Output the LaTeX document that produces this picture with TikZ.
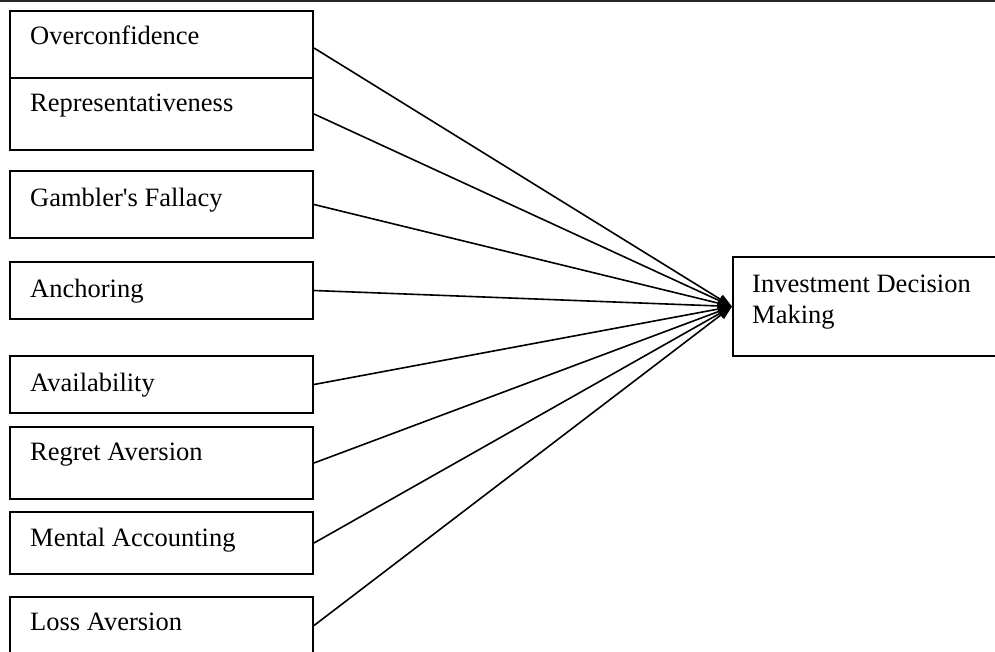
\documentclass[tikz,border=0pt]{standalone}
\usepackage{fontspec}
\setmainfont{Liberation Serif}
\usetikzlibrary{arrows.meta}
\begin{document}
\begin{tikzpicture}[x=1pt,y=-1pt,
  box/.style={draw=black, line width=2pt, rectangle, inner sep=0pt, minimum width=303pt, anchor=north west},
  lbl/.style={inner sep=0pt, anchor=base west, font=\fontsize{26.5}{31}\selectfont},
  conn/.style={draw=black, line width=1.6pt, -{Triangle[length=14pt,width=10pt]}}]
\useasboundingbox (0,0) rectangle (995,652);
\clip (0,0) rectangle (995,652);
\fill[white] (0,0) rectangle (995,652);
\draw[line width=2pt, black!85] (0,1) -- (995,1);
% boxes
\node[box, minimum height=67pt] (b1) at (9,10) {};
\node[box, minimum height=72pt] (b2) at (9,77) {};
\node[box, minimum height=67pt] (b3) at (9,170) {};
\node[box, minimum height=57pt] (b4) at (9,261) {};
\node[box, minimum height=57pt] (b5) at (9,355) {};
\node[box, minimum height=72pt] (b6) at (9,426) {};
\node[box, minimum height=62pt] (b7) at (9,511) {};
\node[box, minimum height=57pt] (b8) at (9,596) {};
\node[box, minimum width=270pt, minimum height=99pt] (inv) at (732,256) {};
% labels
\node[lbl] (t1) at (30,45) {Overconfidence};
\node[lbl] (t2) at (30,112) {Representativeness};
\node[lbl] (t3) at (30,207) {Gambler\textquotesingle s Fallacy};
\node[lbl] (t4) at (30,297) {Anchoring};
\node[lbl] (t5) at (30,391) {Availability};
\node[lbl] (t6) at (30,460) {Regret Aversion};
\node[lbl] (t7) at (30,546) {Mental Accounting};
\node[lbl] (t8) at (30,630) {Loss Aversion};
\node[lbl] (ti1) at (752,292) {Investment Decision};
\node[lbl] (ti2) at (752,323) {Making};
% connectors
\coordinate (tip) at (inv.west);
\draw[conn] ([yshift=-3.5pt]b1.east) -- (tip);
\foreach \b in {b2,b3,b4,b5,b6,b7,b8}{
  \draw[conn] (\b.east) -- (tip);
}
\end{tikzpicture}
\end{document}
